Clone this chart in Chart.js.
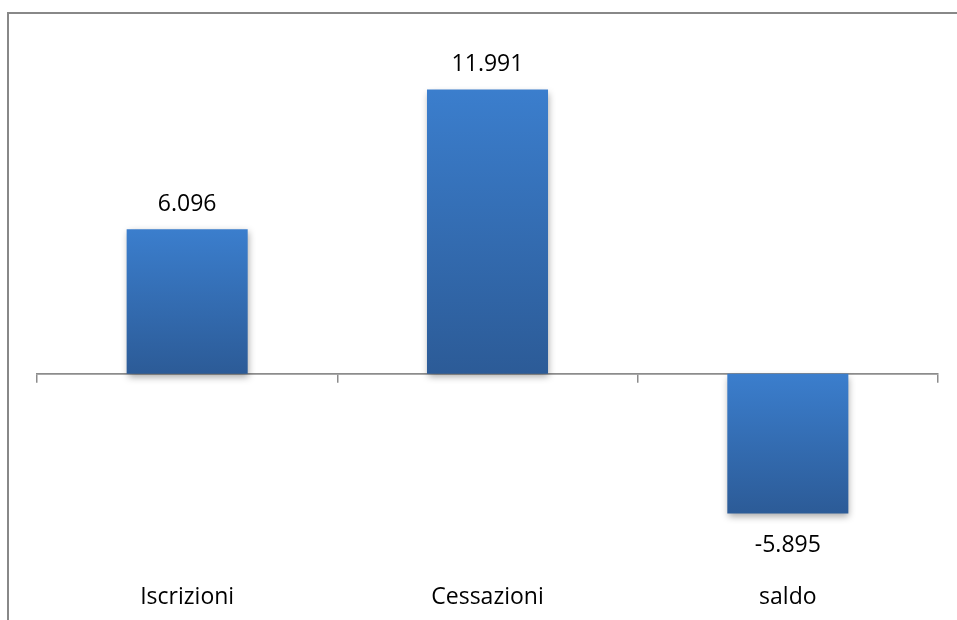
<!DOCTYPE html>
<html lang="it">
<head>
<meta charset="UTF-8">
<title>Iscrizioni e cessazioni</title>
<script src="https://cdn.jsdelivr.net/npm/chart.js"></script>
<style>
    html, body { margin: 0; padding: 0; background: #fff; }
    .wrap { position: relative; width: 957px; height: 620px; overflow: hidden; }
    .frame {
        position: absolute; left: 7px; top: 12px; width: 960px; height: 620px;
        border-left: 2px solid #888; border-top: 2px solid #888;
    }
    #grafico { position: absolute; left: 0; top: 0; }
</style>
</head>
<body>
<div class="wrap">
    <div class="frame"></div>
    <canvas id="grafico" width="957" height="620"></canvas>
</div>

<script>
    // Dati
    const categorie = ['Iscrizioni', 'Cessazioni', 'saldo'];
    const valori = [6096, 11991, -5895];

    const FONT = { family: '"Open Sans", sans-serif', size: 23 };

    // Formato italiano con il punto per le migliaia
    function formatta(n) {
        const s = Math.abs(n).toString().replace(/\B(?=(\d{3})+(?!\d))/g, '.');
        return (n < 0 ? '-' : '') + s;
    }

    // Sfumatura verticale per ogni barra, chiara verso lo zero
    function sfumatura(context) {
        const chart = context.chart;
        const y = chart.scales.y;
        if (!y || context.type !== 'data' || !context.parsed) return '#3a7dcd';
        const p0 = y.getPixelForValue(0);
        const p1 = y.getPixelForValue(context.parsed.y);
        if (!Number.isFinite(p0) || !Number.isFinite(p1)) return '#3a7dcd';
        const top = Math.min(p0, p1), bottom = Math.max(p0, p1);
        const g = chart.ctx.createLinearGradient(0, top, 0, bottom);
        g.addColorStop(0, '#3b7ecd');
        g.addColorStop(1, '#2c5b97');
        return g;
    }

    // Ombra morbida sotto le barre
    const ombra = {
        id: 'ombra',
        beforeDatasetsDraw(chart) {
            const ctx = chart.ctx;
            ctx.save();
            ctx.shadowColor = 'rgba(0,0,0,0.35)';
            ctx.shadowBlur = 7;
            ctx.shadowOffsetX = 1;
            ctx.shadowOffsetY = 3;
        },
        afterDatasetsDraw(chart) {
            chart.ctx.restore();
        }
    };

    // Etichette con i valori sopra/sotto le barre
    const etichette = {
        id: 'etichette',
        afterDatasetsDraw(chart) {
            const ctx = chart.ctx;
            const meta = chart.getDatasetMeta(0);
            ctx.save();
            ctx.font = FONT.size + 'px ' + FONT.family;
            ctx.fillStyle = '#000';
            ctx.textAlign = 'center';
            ctx.textBaseline = 'alphabetic';
            meta.data.forEach((bar, i) => {
                const v = chart.data.datasets[0].data[i];
                const y = v >= 0 ? bar.y - 18.5 : bar.y + 38;
                ctx.fillText(formatta(v), bar.x, y);
            });
            ctx.restore();
        }
    };

    new Chart(document.getElementById('grafico'), {
        type: 'bar',
        data: {
            labels: categorie,
            datasets: [{
                data: valori,
                backgroundColor: sfumatura,
                borderWidth: 0,
                barPercentage: 0.403,
                categoryPercentage: 1
            }]
        },
        options: {
            responsive: false,
            animation: false,
            devicePixelRatio: 1,
            layout: { padding: { left: 37, right: 19, top: 42, bottom: -3 } },
            plugins: {
                legend: { display: false },
                tooltip: { enabled: false }
            },
            scales: {
                y: {
                    display: false,
                    min: -8000,
                    max: 14000
                },
                x: {
                    position: { y: 0 },
                    offset: true,
                    grid: {
                        offset: true,
                        drawOnChartArea: false,
                        drawTicks: true,
                        tickLength: 8,
                        color: '#8c8c8c',
                        lineWidth: 1.5
                    },
                    border: { display: true, color: '#8c8c8c', width: 1.75 },
                    ticks: { display: false }
                },
                x2: {
                    type: 'category',
                    position: 'bottom',
                    offset: true,
                    grid: { display: false },
                    border: { display: false },
                    ticks: {
                        padding: 12,
                        color: '#000',
                        font: FONT,
                        maxRotation: 0
                    }
                }
            }
        },
        plugins: [ombra, etichette]
    });
</script>
</body>
</html>
